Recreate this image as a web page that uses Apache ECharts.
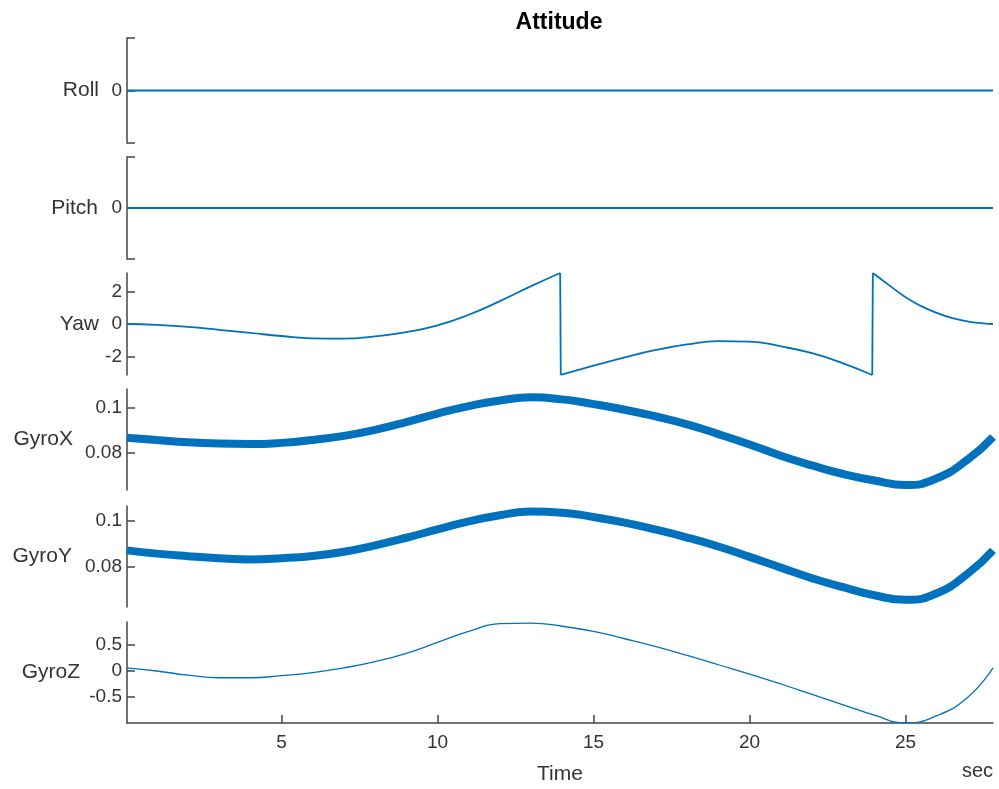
<!DOCTYPE html>
<html>
<head>
<meta charset="utf-8">
<script src="https://cdn.jsdelivr.net/npm/echarts@6/dist/echarts.min.js"></script>
<style>html,body{margin:0;padding:0;background:#fff}#c{width:999px;height:789px}</style>
</head>
<body>
<div id="c"></div>
<script>
// ---- data ----
const time = [0.05,1,2,3,4,5,6,7,8,9,10,11,12,13,14,15,16,17,18,19,20,21,22,23,24,25,26,27,27.8];
const roll = [0,0,0,0,0,0,0,0,0,0,0,0,0,0,0,0,0,0,0,0,0,0,0,0,0,0,0,0,0];
const pitch = [0,0,0,0,0,0,0,0,0,0,0,0,0,0,0,0,0,0,0,0,0,0,0,0,0,0,0,0,0];
const yawTime = [0.05,1,2,3,4,5,6,7,8,9,10,11,12,13,13.93,13.95,15,16,17,18,19,20,21,22,23,23.93,23.95,24.5,25,25.5,26,26.5,27,27.5,27.8];
const yaw = [0,-0.05,-0.18,-0.36,-0.55,-0.74,-0.88,-0.9,-0.76,-0.5,-0.08,0.57,1.41,2.33,3.14,-3.14,-2.57,-2.05,-1.6,-1.26,-1.06,-1.08,-1.38,-1.8,-2.42,-3.14,3.14,2.35,1.65,1.1,0.68,0.36,0.15,0.04,0];
const gyroX = [0.0868,0.0858,0.0848,0.0842,0.084,0.0845,0.0858,0.0876,0.0903,0.0937,0.0975,0.1008,0.1033,0.1047,0.1038,0.1017,0.0992,0.0962,0.0927,0.0884,0.0838,0.0788,0.0745,0.0707,0.0678,0.0658,0.0688,0.0772,0.0871];
const gyroY = [0.0872,0.0858,0.0847,0.0838,0.0833,0.0838,0.0848,0.0866,0.0894,0.0927,0.0963,0.0998,0.1025,0.1041,0.1036,0.1017,0.0993,0.0962,0.0928,0.0889,0.0844,0.0797,0.0751,0.0712,0.0677,0.0657,0.0686,0.0772,0.0872];
const gyroZ = [0.06,0.0,-0.08,-0.13,-0.13,-0.09,-0.03,0.06,0.18,0.34,0.55,0.76,0.91,0.92,0.86,0.76,0.62,0.47,0.3,0.12,-0.06,-0.25,-0.45,-0.65,-0.85,-1.0,-0.86,-0.5,0.06];
const varNames = ['Roll','Pitch','Yaw','GyroX','GyroY','GyroZ'];
const yLimits = [[-1,1],[-1,1],[-Math.PI,Math.PI],[0.0636,0.1084],[0.0626,0.1065],[-1.0,0.942]];
const yTicks = [[-1,0,1],[-1,0,1],[-2,0,2],[0.08,0.1],[0.08,0.1],[-0.5,0,0.5]];
const yTickLabels = [[0],[0],[-2,0,2],[0.08,0.1],[0.08,0.1],[-0.5,0,0.5]];
const xLimits = [0.05, 27.8];
const xTicks = [5,10,15,20,25];

// ---- layout / style ----
const FONT = 'Liberation Sans, Arial, Helvetica, sans-serif';
const AXIS_COLOR = '#444';
const TEXT_COLOR = '#333';
const BLUE = '#0072BD';
const gridTops = [38,157,273,389,506,622];
const gridHeights = [105,102,102,101,101,101];
const nameGaps = [28,29,28,54,55,47];

const grids = gridTops.map((t,i)=>({left:127,right:6,top:t,height:gridHeights[i],containLabel:false}));

const xAxes = grids.map((g,i)=>{
  const last = i === grids.length-1;
  return {
    gridIndex:i, type:'value', min:xLimits[0], max:xLimits[1], show:last,
    name: last ? 'Time' : '', nameLocation:'middle', nameGap:41,
    nameTextStyle:{fontSize:21,color:TEXT_COLOR,fontFamily:FONT},
    axisLine:{show:true,onZero:false,lineStyle:{color:AXIS_COLOR,width:1.5}},
    axisTick:{show:true,inside:true,length:8,customValues:xTicks,lineStyle:{color:AXIS_COLOR,width:1.5}},
    axisLabel:{show:true,customValues:xTicks,fontSize:19,color:TEXT_COLOR,fontFamily:FONT,margin:10},
    splitLine:{show:false}
  };
});

const yAxes = grids.map((g,i)=>({
  gridIndex:i, type:'value', min:yLimits[i][0], max:yLimits[i][1],
  name:varNames[i], nameLocation:'middle', nameRotate:0, nameGap:nameGaps[i],
  nameTextStyle:{fontSize:21,color:TEXT_COLOR,fontFamily:FONT,align:'right',verticalAlign:'middle'},
  axisLine:{show:true,onZero:false,lineStyle:{color:AXIS_COLOR,width:1.5}},
  axisTick:{show:true,inside:true,length:8,customValues:yTicks[i],lineStyle:{color:AXIS_COLOR,width:1.5}},
  axisLabel:{show:true,customValues:yTickLabels[i],fontSize:19,color:TEXT_COLOR,fontFamily:FONT,margin:5,
    formatter:(v)=>String(Math.round(v*1000)/1000)},
  splitLine:{show:false}
}));

function pairs(ts, vs){ return ts.map((t,i)=>[t, vs[i]]); }

// split yaw at wrap-around jumps: smooth pieces + straight jump lines
const yawSmooth = [];
const yawJumps = [];
for (let i=0;i<yawTime.length;i++){
  if (i>0 && Math.abs(yaw[i]-yaw[i-1]) > Math.PI){
    yawSmooth.push(null);
    yawJumps.push([yawTime[i-1],yaw[i-1]],[yawTime[i],yaw[i]],null);
  }
  yawSmooth.push([yawTime[i],yaw[i]]);
}

function lineSeries(idx, data, width, smooth){
  return {type:'line', xAxisIndex:idx, yAxisIndex:idx, data, showSymbol:false, smooth:smooth,
    connectNulls:false, lineStyle:{color:BLUE,width:width}, itemStyle:{color:BLUE}, silent:true, clip:true};
}

const series = [
  lineSeries(0, pairs(time, roll), 2, false),
  lineSeries(1, pairs(time, pitch), 2, false),
  lineSeries(2, yawSmooth, 1.8, 0.5),
  lineSeries(2, yawJumps, 1.8, false),
  lineSeries(3, pairs(time, gyroX), 8, 0.5),
  lineSeries(4, pairs(time, gyroY), 8, 0.5),
  lineSeries(5, pairs(time, gyroZ), 1.3, 0.5)
];

const chart = echarts.init(document.getElementById('c'), null, {renderer:'canvas'});
chart.setOption({
  animation:false,
  backgroundColor:'#fff',
  title:{text:'Attitude', left:554, top:6, textAlign:'center',
    textStyle:{fontSize:23,fontWeight:'bold',color:'#000',fontFamily:FONT}},
  graphic:[{type:'text', right:6, top:761, style:{text:'sec', fontSize:20, fontFamily:FONT, fill:TEXT_COLOR}}],
  grid:grids, xAxis:xAxes, yAxis:yAxes, series
});
</script>
</body>
</html>
